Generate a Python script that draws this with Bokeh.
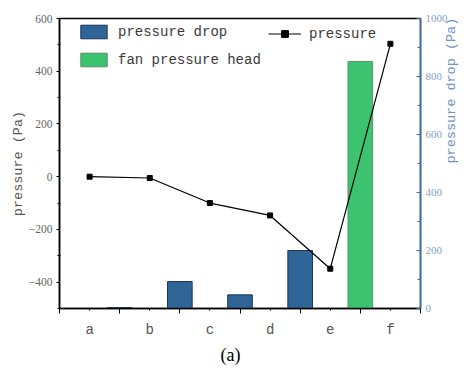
from bokeh.plotting import figure
from bokeh.models import (Range1d, LinearAxis, FixedTicker, Legend, LegendItem, Title)
from bokeh.embed import file_html
from bokeh.resources import INLINE
import math

categories = ["a", "b", "c", "d", "e", "f"]
cat_pos = [0.5, 1.5, 2.5, 3.5, 4.5, 5.5]
pressure = [0, -5, -100, -147, -349, 504]

drop_pos = [1, 2, 3, 4]
drop_vals = [3, 93, 47, 200]
fan_pos = [5]
fan_vals = [852]

left_ticks = [-400, -200, 0, 200, 400, 600]
left_minor = [-500, -300, -100, 100, 300, 500]
right_ticks = [0, 200, 400, 600, 800, 1000]
right_minor = [100, 300, 500, 700, 900]

SERIF = "Liberation Serif"
MONO = "Liberation Mono"
BLUE_AX = "#3f6fae"

p = figure(width=469, height=376, output_backend="svg", toolbar_location=None,
           x_range=Range1d(0, 6), y_range=Range1d(-500, 600),
           min_border_left=59, min_border_right=47, min_border_top=18, min_border_bottom=68)
p.grid.visible = False
p.outline_line_color = "black"
p.outline_line_width = 1.5
p.background_fill_color = "white"

p.extra_y_ranges = {"drop": Range1d(0, 1000)}

b1 = p.vbar(x=drop_pos, top=drop_vals, width=0.41, y_range_name="drop",
            fill_color="#2f6497", line_color="#1c3a5a", line_width=1)
b2 = p.vbar(x=fan_pos, top=fan_vals, width=0.41, y_range_name="drop",
            fill_color="#3cc36f", line_color="#5f8f6f", line_width=1)
l1 = p.line(cat_pos, pressure, line_color="black", line_width=1.2)
s1 = p.scatter(cat_pos, pressure, marker="square", size=5, fill_color="black", line_color="black")

xa = p.xaxis[0]
xa.ticker = FixedTicker(ticks=cat_pos, minor_ticks=[0, 1, 2, 3, 4, 5, 6])
xa.major_label_overrides = {pos: c for pos, c in zip(cat_pos, categories)}
xa.major_tick_out = 2
xa.major_tick_in = 0
xa.minor_tick_out = 5
xa.minor_tick_in = 0
xa.axis_line_width = 1.5
xa.major_label_text_font = MONO
xa.major_label_text_font_size = "14px"
xa.major_label_text_color = "#555555"
xa.major_label_standoff = 8

ya = p.yaxis[0]
ya.ticker = FixedTicker(ticks=left_ticks, minor_ticks=left_minor)
ya.major_tick_out = 3
ya.major_tick_in = 0
ya.minor_tick_out = 2
ya.minor_tick_in = 1
ya.axis_line_width = 1.5
ya.major_label_text_font = SERIF
ya.major_label_text_font_size = "11.5px"
ya.major_label_text_color = "#666666"
ya.major_label_standoff = 4
ya.axis_label = "pressure (Pa)"
ya.axis_label_text_font = MONO
ya.axis_label_text_font_style = "normal"
ya.axis_label_text_font_size = "13.5px"
ya.axis_label_text_color = "#555555"
ya.axis_label_standoff = 0

ra = LinearAxis(y_range_name="drop")
ra.ticker = FixedTicker(ticks=right_ticks, minor_ticks=right_minor)
ra.axis_line_color = BLUE_AX
ra.axis_line_width = 1.5
ra.major_tick_line_color = BLUE_AX
ra.minor_tick_line_color = BLUE_AX
ra.major_tick_in = 4
ra.major_tick_out = 0
ra.minor_tick_in = 3
ra.minor_tick_out = 0
ra.major_label_text_font = SERIF
ra.major_label_text_font_size = "11px"
ra.major_label_text_color = "#7f9fcc"
ra.major_label_standoff = 5
ra.axis_label = "pressure drop (Pa)"
ra.axis_label_orientation = math.pi / 2
ra.axis_label_text_font = MONO
ra.axis_label_text_font_style = "normal"
ra.axis_label_text_font_size = "13.5px"
ra.axis_label_text_color = "#6d92c4"
ra.axis_label_standoff = 1
p.add_layout(ra, "right")

leg1 = Legend(items=[LegendItem(label="pressure drop", renderers=[b1]),
                     LegendItem(label="fan pressure head", renderers=[b2])],
              location=(18, 240), margin=0, padding=0, spacing=11,
              glyph_width=33, glyph_height=17, label_height=17,
              label_text_font=MONO, label_text_font_size="14px",
              label_text_color="#3a3a3a", label_standoff=8,
              border_line_alpha=0, background_fill_alpha=0)
leg2 = Legend(items=[LegendItem(label="pressure", renderers=[l1, s1])],
              location=(209, 266), margin=0, padding=0,
              glyph_width=33, glyph_height=17, label_height=17,
              label_text_font=MONO, label_text_font_size="14px",
              label_text_color="#3a3a3a", label_standoff=8,
              border_line_alpha=0, background_fill_alpha=0)
p.add_layout(leg1, "center")
p.add_layout(leg2, "center")

p.add_layout(Title(text="(a)", align="left", offset=161, text_font=SERIF, text_font_size="18px",
                   text_font_style="normal", text_color="black", standoff=4), "below")

open("out.html", "w").write(file_html(p, INLINE))
